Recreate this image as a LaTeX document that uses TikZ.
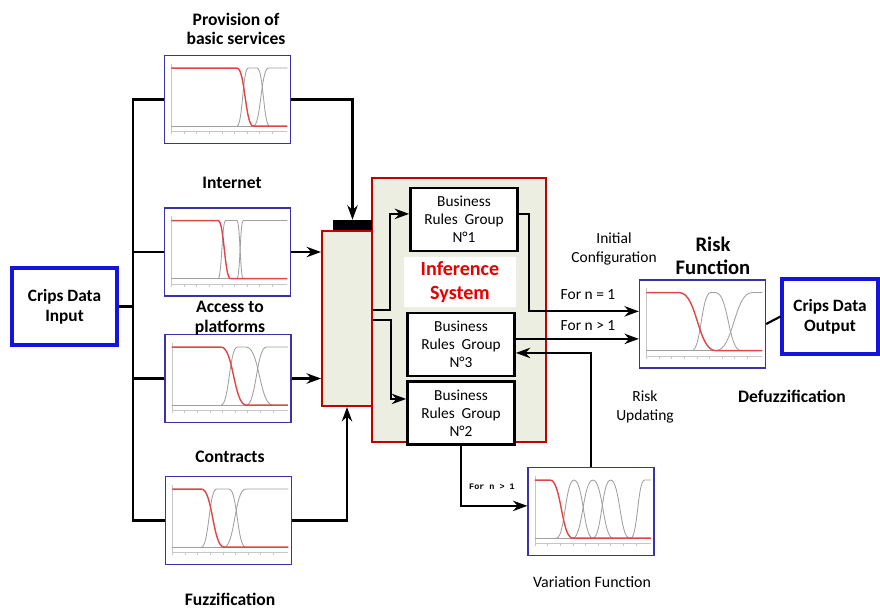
\documentclass[tikz,border=0pt]{standalone}
\usepackage{fontspec}
\setmainfont{Carlito}
\setmonofont{Liberation Mono}
\usetikzlibrary{arrows.meta, calc}
\definecolor{boxblue}{RGB}{20,20,220}
\definecolor{chartblue}{RGB}{60,50,170}
\definecolor{darkred}{RGB}{192,0,0}
\definecolor{infill}{RGB}{236,238,226}
\definecolor{mfredc}{RGB}{225,70,70}
\tikzset{
    iobox/.style={rectangle, draw=boxblue, line width=2.2pt, minimum width=2.625cm,
                  minimum height=1.925cm, align=center, font=\fontsize{12.3}{14.5}\selectfont\bfseries},
    chart/.style={rectangle, draw=chartblue, line width=0.9pt, fill=white,
                  minimum width=3.15cm, minimum height=2.2cm},
    rulebox/.style={rectangle, draw, line width=1.9pt, fill=white, minimum width=2.675cm,
                    minimum height=1.575cm, align=center, font=\fontsize{10.9}{12.8}\selectfont},
    redbox/.style={rectangle, draw=darkred, line width=1.4pt, fill=infill},
    ttl/.style={align=center, font=\fontsize{12.5}{14}\selectfont\bfseries},
    lbl/.style={align=center, font=\fontsize{11}{13}\selectfont},
    flow/.style={line width=1.5pt, -{Stealth[length=3.6mm, width=2.6mm]}},
    link/.style={line width=1.5pt},
    mfred/.style={draw=mfredc, line width=1pt},
    mfgray/.style={draw=gray!75, line width=0.6pt},
    mfaxis/.style={draw=gray!45, line width=0.3pt},
}
% membership functions drawn inside a chart node
% #1 chart, #2/#3 red drop, #4 closed shapes a/b/c/d, #5 open shapes a/b
\newcommand{\mfplot}[5]{%
  \begin{scope}[shift={(#1.north west)}, x=3.15cm, y=-2.2cm]
    \draw[mfaxis] (0.06,0.10) -- (0.06,0.87) -- (0.98,0.87);
    \foreach \t in {0.06,0.16,...,0.96} \draw[mfaxis] (\t,0.87) -- (\t,0.90);
    \draw[mfgray] (0.06,0.81) -- (0.98,0.81);
    \foreach \a/\b/\c/\d in {#4}
      \draw[mfgray] (\a,0.81) .. controls ({(\a+\b)/2},0.81) and ({(\a+\b)/2},0.15) .. (\b,0.15)
        -- (\c,0.15) .. controls ({(\c+\d)/2},0.15) and ({(\c+\d)/2},0.81) .. (\d,0.81);
    \foreach \a/\b in {#5}
      \draw[mfgray] (\a,0.81) .. controls ({(\a+\b)/2},0.81) and ({(\a+\b)/2},0.15) .. (\b,0.15) -- (0.98,0.15);
    \draw[mfred] (0.06,0.15) -- (#2,0.15) .. controls ({(#2+#3)/2},0.15) and ({(#2+#3)/2},0.81) .. (#3,0.81) -- (0.98,0.81);
  \end{scope}}
\begin{document}
\begin{tikzpicture}[x=0.025cm, y=-0.025cm]
    \useasboundingbox (0,0) rectangle (880,608);

    % inputs and fuzzification charts
    \node[iobox] (input) at (64.5,306.5) {Crips Data\\Input};
    \node[chart] (provision) at (227.5,99.5) {};
    \node[chart] (internet) at (227.5,252) {};
    \node[chart] (access) at (228,378.5) {};
    \node[chart] (contracts) at (228.5,520.5) {};
    \mfplot{provision}{0.58}{0.71}{0.58/0.67/0.74/0.84}{0.71/0.83}
    \mfplot{internet}{0.43}{0.53}{0.43/0.49/0.58/0.63}{0.58/0.63}
    \mfplot{access}{0.45}{0.65}{0.45/0.58/0.65/0.86}{0.65/0.81}
    \mfplot{contracts}{0.29}{0.47}{0.29/0.41/0.51/0.64}{0.47/0.64}

    \node[ttl] at (236,29) {Provision of\\basic services};
    \node[ttl] at (232,183) {Internet};
    \node[ttl] at (230,318) {Access to\\platforms};
    \node[ttl] at (230,457) {Contracts};
    \node[ttl] at (230,599) {Fuzzification};

    % aggregation and inference system
    \node[redbox, minimum width=4.35cm, minimum height=6.6cm] (infsys) at (459,310) {};
    \node[redbox, minimum width=1.25cm, minimum height=4.375cm] (agg) at (347,318.5) {};
    \node[rectangle, fill=black, minimum width=0.975cm, minimum height=0.25cm, inner sep=0pt] (bar) at (352.5,225) {};
    \node[rulebox] (brg1) at (464,219.5) {Business\\Rules\ \ Group\\N°1};
    \node[fill=white, minimum width=2.8cm, minimum height=1.2cm, align=center,
          text=red!90!black, font=\fontsize{14.3}{16.5}\selectfont\bfseries] (inflabel) at (460,282) {Inference\\System};
    \node[rulebox] (brg3) at (461,344.5) {Business\\Rules\ \ Group\\N°3};
    \node[rulebox] (brg2) at (461,413) {Business\\Rules\ \ Group\\N°2};

    % risk and variation functions
    \node[chart] (risk) at (702.5,324) {};
    \node[chart] (variation) at (591,511.5) {};
    \mfplot{risk}{0.32}{0.61}{0.42/0.57/0.61/0.81}{0.61/0.90}
    \mfplot{variation}{0.18}{0.36}{0.23/0.37/0.37/0.52,0.36/0.52/0.52/0.68,0.52/0.66/0.66/0.81}{0.82/0.93}
    \node[iobox, minimum width=2.4cm, minimum height=1.875cm] (output) at (830,316.5) {Crips Data\\Output};

    \node[font=\fontsize{14.7}{16}\selectfont\bfseries, align=center] at (713,256) {Risk\\Function};
    \node[lbl] at (614,249) {Initial\\Configuration};
    \node[lbl] at (588,295) {For n = 1};
    \node[lbl] at (588,326) {For n > 1};
    \node[lbl] at (645,407) {Risk\\Updating};
    \node[ttl] at (792,396) {Defuzzification};
    \node[font=\ttfamily\bfseries\fontsize{6}{7}\selectfont] at (492,487) {For n > 1};
    \node[lbl, font=\fontsize{11.3}{13}\selectfont] at (592,582) {Variation Function};

    % input bus
    \draw[link] (input.east) -- (133,306.5);
    \draw[link] (provision.west) -| (133,306.5) |- (contracts.west);
    \draw[link] (internet.west) -- (internet.west -| 133,0);
    \draw[link] (access.west) -- (access.west -| 133,0);

    % charts to aggregation
    \draw[flow] (provision.east) -| (bar.north);
    \draw[flow] (internet.east) -- (internet.east -| agg.west);
    \draw[flow] (access.east) -- (access.east -| agg.west);
    \draw[flow] (contracts.east) -| (agg.south);

    % aggregation to rule groups
    \draw[flow] ([yshift=6pt]agg.east) -- ++(17,0) |- ([yshift=4pt]brg1.west);
    \draw[flow] ([yshift=-1pt]agg.east) -- ++(18,0) |- ([yshift=10pt]brg2.west);

    % rule groups to risk function
    \draw[flow] ([yshift=4pt]brg1.east) -- ++(10,0) |- ([yshift=9pt]risk.west);
    \draw[flow] ([yshift=4pt]brg3.east) -- ([yshift=4pt]brg3.east -| risk.west);
    \draw[flow] (brg2.south) |- ([yshift=4pt]variation.west);
    \draw[flow] (variation.north) |- ([yshift=-6pt]brg3.east);
    \draw[link] (risk.east) -- (output.west);

\end{tikzpicture}
\end{document}
